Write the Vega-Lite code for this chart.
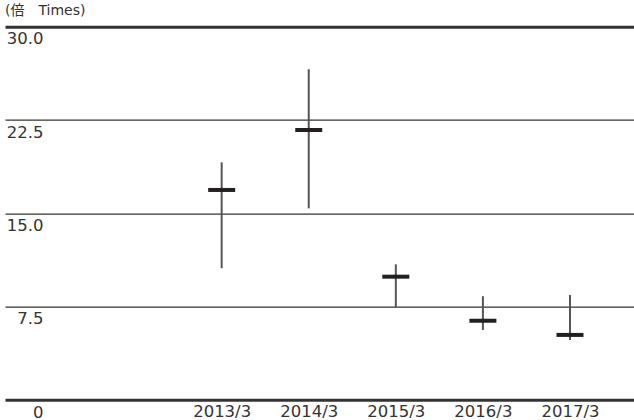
{
  "$schema": "https://vega.github.io/schema/vega-lite/v6.json",
  "width": 629,
  "height": 373.3,
  "autosize": "none",
  "padding": {"left": 5, "top": 26.7, "right": 0, "bottom": 20},
  "background": "white",
  "title": {
    "text": "(倍　Times)",
    "anchor": "start",
    "frame": "group",
    "offset": 9,
    "fontSize": 14,
    "fontWeight": "normal",
    "font": "DejaVu Sans, Noto Sans CJK JP",
    "color": "#333333"
  },
  "config": {
    "view": {"stroke": null},
    "axis": {"labelFont": "DejaVu Sans", "labelFontSize": 16.5, "labelColor": "#333333"}
  },
  "data": {
    "values": [
      {"year": "2013/3", "low": 10.59, "high": 19.1, "mid": 16.88},
      {"year": "2014/3", "low": 15.4, "high": 26.58, "mid": 21.7},
      {"year": "2015/3", "low": 7.45, "high": 10.9, "mid": 9.91},
      {"year": "2016/3", "low": 5.63, "high": 8.34, "mid": 6.37},
      {"year": "2017/3", "low": 4.82, "high": 8.44, "mid": 5.23}
    ]
  },
  "encoding": {
    "x": {
      "field": "year",
      "type": "ordinal",
      "scale": {
        "type": "point",
        "domain": ["_a", "_b", "2013/3", "2014/3", "2015/3", "2016/3", "2017/3"],
        "padding": 0.6116,
        "align": 0.399
      },
      "axis": {
        "title": null,
        "domain": false,
        "ticks": false,
        "tickSize": 0,
        "labelAngle": 0,
        "labelPadding": 3,
        "labelBaseline": "top",
        "labelExpr": "indexof(datum.label, '_') == 0 ? '' : datum.label"
      }
    }
  },
  "layer": [
    {
      "mark": {"type": "rule", "stroke": "#555555", "strokeWidth": 2},
      "encoding": {
        "y": {
          "field": "low",
          "type": "quantitative",
          "scale": {"domain": [0, 30], "nice": false, "zero": true},
          "axis": {
            "title": null,
            "values": [0, 7.5, 15, 22.5, 30],
            "labelExpr": "datum.value == 0 ? '0' : format(datum.value, '.1f')",
            "domain": false,
            "ticks": false,
            "tickSize": 0,
            "labelAlign": "right",
            "labelBaseline": "top",
            "labelPadding": -38,
            "labelOffset": 4,
            "labelFlush": false,
            "labelOverlap": false,
            "grid": true,
            "gridColor": "#333333",
            "gridWidth": {"condition": {"test": "datum.value == 0 || datum.value == 30", "value": 3}, "value": 1.3},
            "gridOpacity": 1
          }
        },
        "y2": {"field": "high"}
      }
    },
    {
      "mark": {"type": "tick", "color": "#231f20", "size": 27, "thickness": 4, "opacity": 1},
      "encoding": {
        "y": {"field": "mid", "type": "quantitative"}
      }
    }
  ]
}
